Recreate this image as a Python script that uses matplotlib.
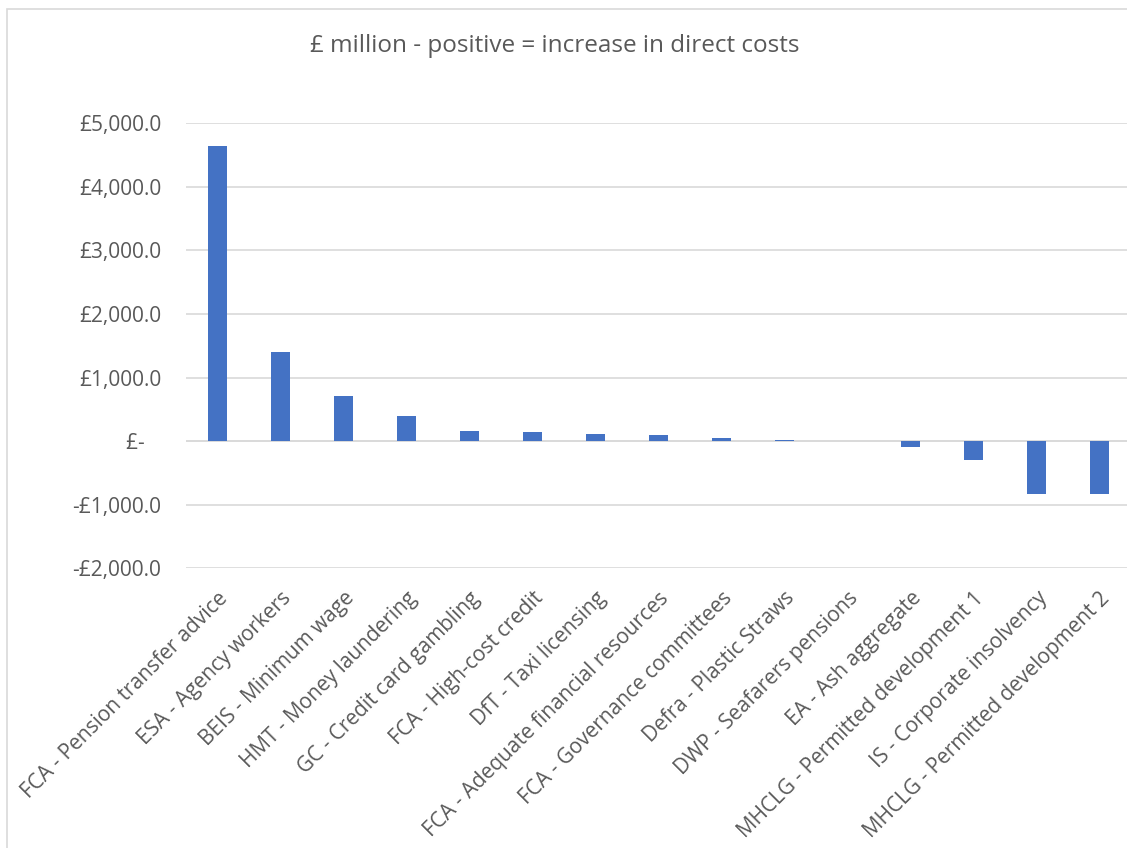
import numpy as np
import matplotlib
matplotlib.use('Agg')
import matplotlib.pyplot as plt
from matplotlib.patches import Rectangle
from matplotlib.ticker import FuncFormatter

labels = ['FCA - Pension transfer advice', 'ESA - Agency workers', 'BEIS - Minimum wage',
          'HMT - Money laundering', 'GC - Credit card gambling', 'FCA - High-cost credit',
          'DfT - Taxi licensing', 'FCA - Adequate financial resources',
          'FCA - Governance committees', 'Defra - Plastic Straws', 'DWP - Seafarers pensions',
          'EA - Ash aggregate', 'MHCLG - Permitted development 1', 'IS - Corporate insolvency',
          'MHCLG - Permitted development 2']
values = [4643, 1410, 718, 398, 152, 142, 115, 94, 52, 26, 2, -94, -293, -830, -830]
yticks = [-2000, -1000, 0, 1000, 2000, 3000, 4000, 5000]

grey = '#595959'
plt.rcParams['font.family'] = ['Open Sans', 'DejaVu Sans']

W, H = 1127, 848
fig = plt.figure(figsize=(W / 100, H / 100), dpi=100)
# axes spans past the right edge, like the cropped original
ax = fig.add_axes([186 / W, 1 - 568.3 / H, (1131 - 186) / W, (568.3 - 123.3) / H])

x = np.arange(len(values))
ax.bar(x, values, width=0.31, color='#4472C4', zorder=3)
ax.set_xlim(-0.5, len(values) - 0.5)
ax.set_ylim(-2000, 5000)
ax.set_yticks(yticks)

def money(v, pos):
    if v == 0:
        return '£-   '
    s = '£{:,.1f}'.format(abs(v))
    return '-' + s if v < 0 else s

ax.yaxis.set_major_formatter(FuncFormatter(money))
ax.grid(axis='y', color='#d9d9d9', linewidth=1.2, zorder=0)
ax.tick_params(axis='y', length=0, pad=18, labelsize=15, labelcolor=grey)
ax.tick_params(axis='x', length=0, pad=14, labelsize=15, labelcolor=grey)
ax.set_xticks(x)
ax.set_xticklabels(labels, rotation=45, ha='right', rotation_mode='anchor')
for s in ax.spines.values():
    s.set_visible(False)
ax.axhline(0, color='#d9d9d9', linewidth=1.2, zorder=2)

fig.text(555 / W, 1 - 46 / H, '£ million - positive = increase in direct costs',
         ha='center', va='center', fontsize=17.5, color=grey)

fig.patches.append(Rectangle((6.5 / W, -0.1), 1.2, 1 - 9 / H + 0.1, transform=fig.transFigure,
                             fill=False, edgecolor='#d9d9d9', linewidth=1.2))

fig.savefig('out.png', dpi=100)
